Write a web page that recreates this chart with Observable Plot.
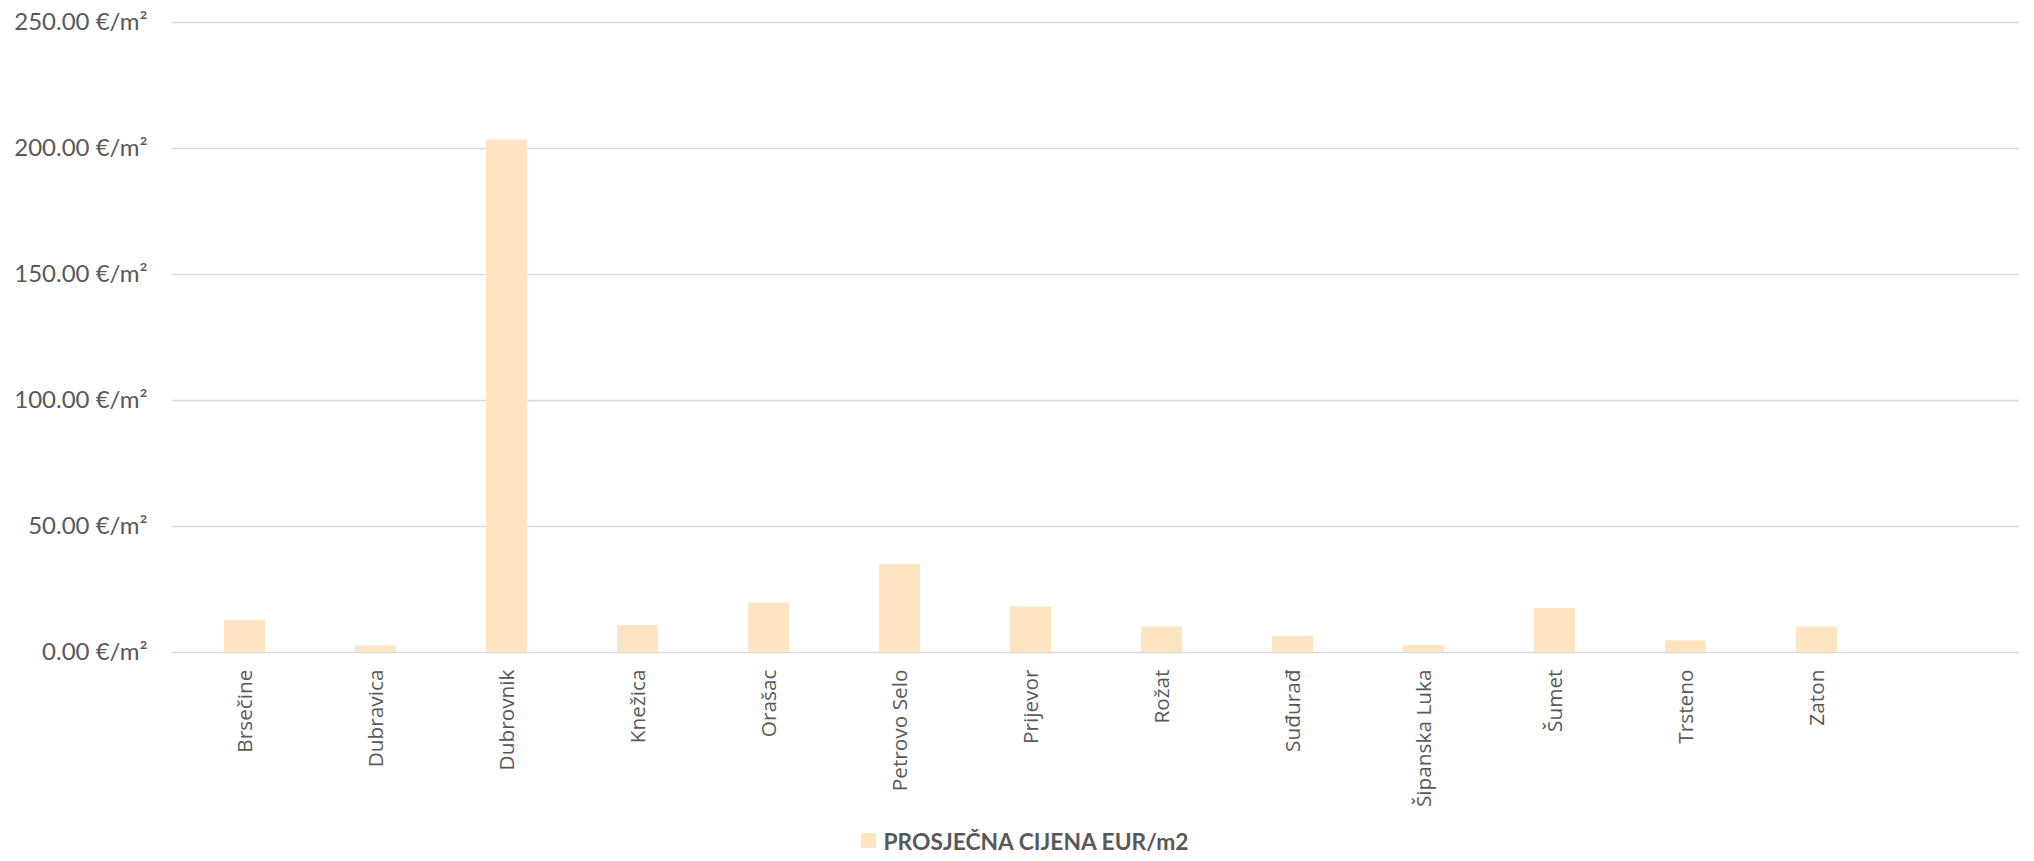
<!DOCTYPE html>
<html>
<head>
<meta charset="utf-8">
<script src="https://cdn.jsdelivr.net/npm/d3@7"></script>
<script src="https://cdn.jsdelivr.net/npm/@observablehq/plot@0.6"></script>
<style>
  html, body { margin: 0; padding: 0; background: #fff; }
  #chart svg { display: block; }
  #chart g[aria-label="x-axis tick label"] text { font-family: "Open Sans", sans-serif !important; font-size: 20.8px !important; }
  #chart g[aria-label="y-axis tick label"] text { font-family: Lato, sans-serif !important; font-size: 24px !important; }
  #legend { height: 41px; display: flex; justify-content: center; align-items: center; font-family: Lato, sans-serif; font-weight: 700; font-size: 22.8px; color: #595959; }
  #legend .sw { width: 15px; height: 15px; background: #FFE4C2; margin-right: 7px; margin-left: 16px; }
</style>
</head>
<body>
<div id="chart"></div>
<div id="legend"><span class="sw"></span><span>PROSJEČNA CIJENA EUR/m2</span></div>
<script>
const categories = ["Brsečine", "Dubravica", "Dubrovnik", "Knežica", "Orašac", "Petrovo Selo", "Prijevor", "Rožat", "Suđurađ", "Šipanska Luka", "Šumet", "Trsteno", "Zaton"];
const prices = [12.8, 2.6, 203.4, 10.7, 19.6, 35.0, 18.1, 10.1, 6.4, 2.8, 17.5, 4.6, 10.1];
const yTicks = [0, 50, 100, 150, 200, 250];
const seriesName = "PROSJEČNA CIJENA EUR/m2";

const data = categories.map((c, i) => ({category: c, price: prices[i]}));
const xDomain = [...categories, " "];

const fmt = v => v.toFixed(2) + " €/m²";

const chart = Plot.plot({
  width: 2034,
  height: 820,
  marginLeft: 172,
  marginRight: 15,
  marginTop: 22,
  marginBottom: 168,
  x: {domain: xDomain, paddingInner: 0.69, paddingOuter: 0.345, align: 0.5},
  y: {domain: [0, 250]},
  style: {background: "#fff"},
  marks: [
    Plot.ruleY(yTicks, {stroke: "#D9D9D9", strokeWidth: 1.5}),
    Plot.barY(data, {x: "category", y: "price", fill: "#FFE4C2"}),
    Plot.axisY({ticks: yTicks, tickFormat: fmt, tickSize: 0, tickPadding: 25, label: null,
      fontSize: 24, fill: "#595959"}),
    Plot.axisX({tickRotate: -90, tickSize: 0, tickPadding: 17, label: null,
      fontSize: 20.8, fill: "#595959"})
  ]
});
document.getElementById("chart").appendChild(chart);
</script>
</body>
</html>
